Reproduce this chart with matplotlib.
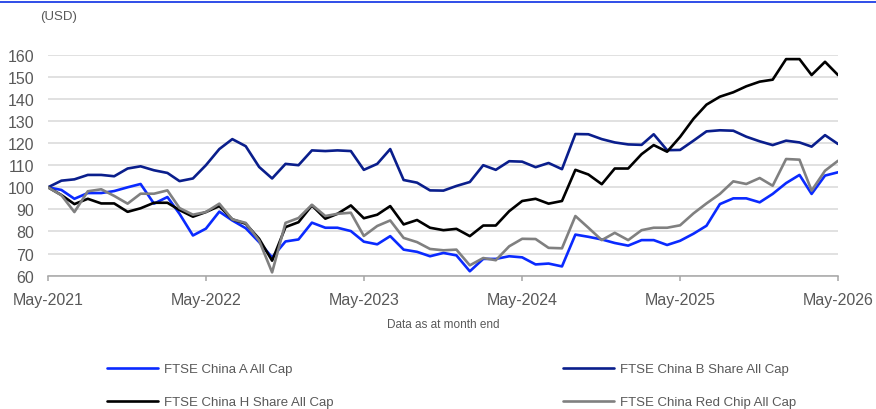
import matplotlib
matplotlib.use("Agg")
import matplotlib.pyplot as plt
import matplotlib.dates as mdates
import pandas as pd

plt.rcParams['font.family'] = ['Liberation Sans', 'DejaVu Sans']

# monthly index levels, rebased to 100 at May-2021
months = pd.date_range('2021-05-01', periods=61, freq='MS')

china_a = [100, 98.8, 94.8, 97.4, 97.4, 98.3, 100, 101.5, 92.6, 95.6,
           88, 78.2, 81.3, 89, 85, 81.5, 75.2, 68.3, 75.5, 76.4,
           84, 81.7, 81.7, 80.2, 75.4, 74.2, 77.9, 71.8, 70.8, 68.8,
           70.3, 69.2, 62, 67.6, 67.6, 68.8, 68.3, 65.1, 65.5, 64.2,
           78.6, 77.6, 76.4, 74.8, 73.6, 76.1, 76.1, 73.9, 75.8, 79,
           82.6, 92.4, 95, 95, 93.2, 97, 101.9, 105.6, 97, 105.3, 106.8]

china_b = [100, 103, 103.6, 105.6, 105.6, 105, 108.5, 109.5, 107.7, 106.5,
           102.8, 104, 110, 117.3, 121.8, 118.6, 109.2, 104, 110.6, 110,
           116.7, 116.4, 116.7, 116.4, 107.9, 110.6, 117.3, 103.3, 102.1, 98.6,
           98.5, 100.6, 102.4, 110, 107.9, 111.8, 111.6, 109.1, 111, 108.2,
           124.1, 124, 121.8, 120.3, 119.4, 119.2, 124, 116.8, 116.9, 121.1,
           125.3, 125.8, 125.6, 122.9, 120.8, 119.1, 121.1, 120.3, 118.4, 123.6, 119.6]

china_h = [100, 96.5, 92.4, 94.8, 92.7, 92.7, 88.9, 90.5, 93, 93,
           89.7, 86.7, 88.8, 91.5, 85.5, 83.5, 76.7, 66.8, 82, 84.2,
           91.8, 85.8, 88, 91.8, 86, 87.6, 91.5, 83.2, 85.2, 81.7,
           80.6, 81.2, 77.9, 82.7, 82.7, 89.2, 93.8, 94.8, 92.6, 93.8,
           107.9, 105.8, 101.4, 108.5, 108.5, 115, 119.1, 116.1, 122.8, 131,
           137.4, 141, 143, 145.7, 147.8, 148.7, 158, 158, 150.8, 156.8, 150.8]

red_chip = [100, 96.4, 88.8, 98.2, 99.1, 96.1, 92.6, 97.1, 97.1, 98.6,
            90.6, 87.6, 88.8, 92.6, 85.5, 83.9, 75.9, 61.5, 83.9, 86.1,
            92.1, 87, 88, 88.5, 78, 82.5, 85, 77.1, 75.2, 72.1,
            71.5, 71.8, 64.7, 68, 67, 73.3, 76.7, 76.6, 72.6, 72.4,
            87, 81.7, 76.1, 79.4, 76.1, 80.6, 81.7, 81.7, 82.8, 88.2,
            92.7, 97, 102.7, 101.5, 104.2, 100.7, 112.8, 112.5, 98.5, 107.5, 112]

labels = ['FTSE China A All Cap', 'FTSE China B Share All Cap',
          'FTSE China H Share All Cap', 'FTSE China Red Chip All Cap']
colors = ['#0a2aff', '#0a1e8c', '#000000', '#808080']
y_ticks = [60, 70, 80, 90, 100, 110, 120, 130, 140, 150, 160]

txt = '#595959'

fig = plt.figure(figsize=(8.76, 4.10), dpi=100)
ax = fig.add_axes([48 / 876, 1 - 276.7 / 410, 790 / 876, 221 / 410])

lines = []
for series, lab, col in zip([china_a, china_b, china_h, red_chip], labels, colors):
    ln, = ax.plot(months, series, color=col, lw=1.9, label=lab,
                  solid_joinstyle='round', solid_capstyle='round')
    lines.append(ln)

ax.set_xlim(months[0], months[-1])
ax.set_ylim(60, 160)
ax.set_yticks(y_ticks)
ax.grid(axis='y', color='#d9d9d9', lw=1.1)
ax.set_axisbelow(True)

ax.xaxis.set_major_locator(mdates.MonthLocator(bymonth=5))
ax.xaxis.set_major_formatter(mdates.DateFormatter('%b-%Y'))

for s in ['top', 'right', 'left']:
    ax.spines[s].set_visible(False)
ax.spines['bottom'].set_color('#a6a6a6')
ax.spines['bottom'].set_linewidth(1.1)

ax.tick_params(axis='y', length=0, pad=10, labelsize=11.5, labelcolor=txt)
ax.tick_params(axis='x', length=3.5, width=1.1, color='#a6a6a6', pad=8,
               labelsize=11.5, labelcolor=txt)

fig.text(40 / 876, 1 - 17 / 410, '(USD)', fontsize=9.5, color=txt,
         ha='left', va='center')
fig.text(443 / 876, 1 - 325 / 410, 'Data as at month end', fontsize=8.5,
         color=txt, ha='center', va='center')

# blue rule across the top
fig.add_artist(plt.Line2D([0, 1], [1 - 3 / 410, 1 - 3 / 410],
                          color='#1f3fe6', lw=1.3, transform=fig.transFigure))

leg_kw = dict(loc='upper left', frameon=False, fontsize=9.5, handlelength=3.9,
              handletextpad=0.45, labelspacing=1.58, borderpad=0,
              borderaxespad=0, labelcolor=txt)
fig.legend([lines[0], lines[2]], [labels[0], labels[2]],
           bbox_to_anchor=(107 / 876, 1 - 364 / 410), **leg_kw)
fig.legend([lines[1], lines[3]], [labels[1], labels[3]],
           bbox_to_anchor=(563 / 876, 1 - 364 / 410), **leg_kw)

fig.savefig('out.png', dpi=100)
